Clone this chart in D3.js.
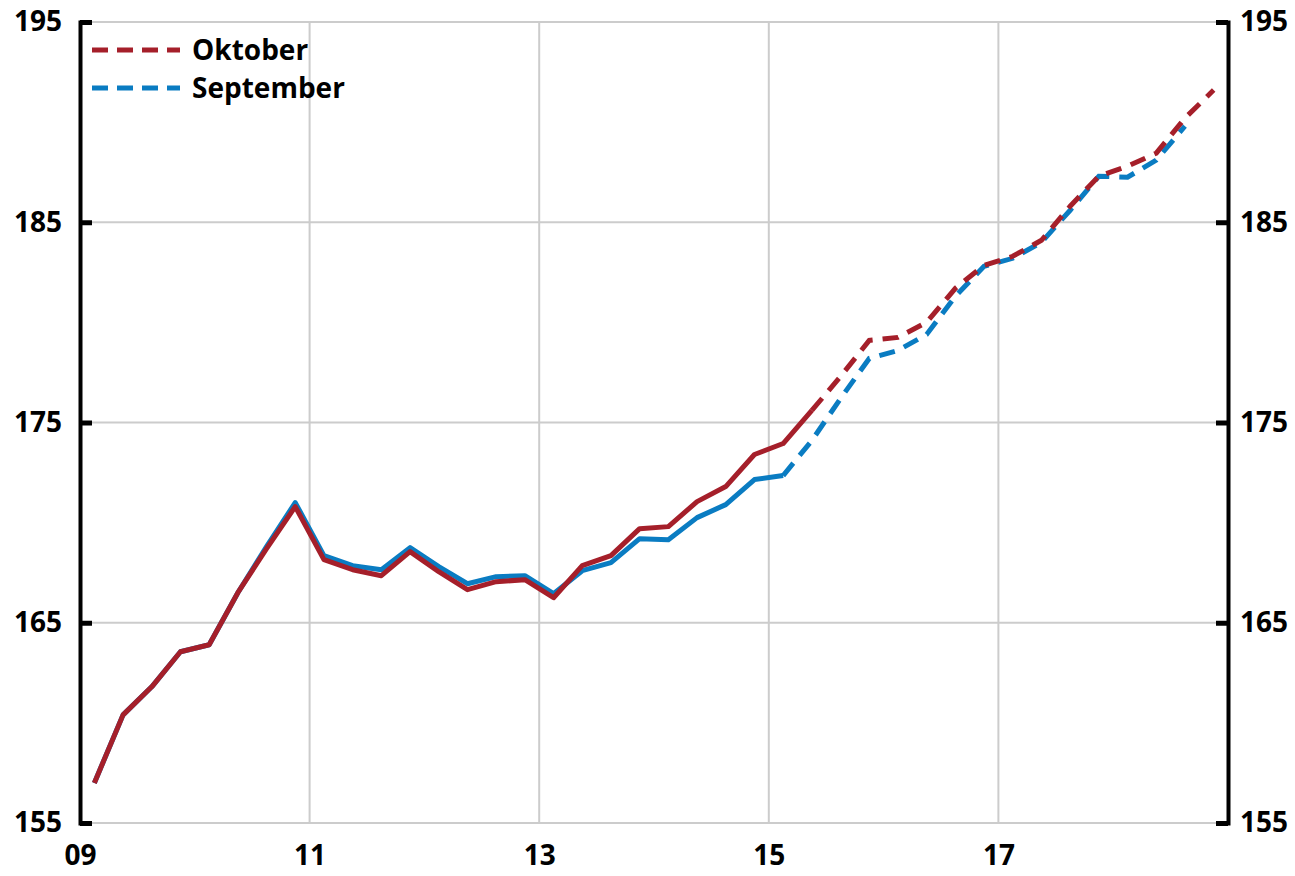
<!DOCTYPE html>
<html>
<head>
<meta charset="utf-8">
<script src="https://cdn.jsdelivr.net/npm/d3@7"></script>
<style>
  body { margin: 0; background: #fff; }
  text { font-family: "Open Sans", "DejaVu Sans", sans-serif; font-weight: 700; }
</style>
</head>
<body>
<div id="chart"></div>
<script>
// quarterly series, 2009Q1 onwards
var startYear = 2009;
var oktober = [
  157.0, 160.4, 161.8, 163.55,
  163.9, 166.5, 168.7, 170.8,
  168.15, 167.65, 167.35, 168.55,
  167.55, 166.65, 167.05, 167.15,
  166.25, 167.85, 168.35, 169.7,
  169.8, 171.05, 171.8, 173.4,
  173.95, 175.6, 177.3, 179.1,
  179.25, 180.0, 181.7, 182.85,
  183.3, 184.1, 185.8, 187.3,
  187.8, 188.45, 190.2, 191.6
];
var september = [
  157.0, 160.4, 161.8, 163.55,
  163.9, 166.5, 168.8, 171.0,
  168.35, 167.85, 167.65, 168.75,
  167.8, 166.95, 167.3, 167.35,
  166.45, 167.6, 168.0, 169.2,
  169.15, 170.25, 170.9, 172.15,
  172.35, 174.1, 176.2, 178.2,
  178.6, 179.4, 181.3, 182.8,
  183.2, 184.0, 185.6, 187.3,
  187.25, 188.1, 189.8
];
// index where the forecast (dashed) part starts
var oktoberFcst = 25;   // 2015Q2
var septemberFcst = 24; // 2015Q1
var yTicks = [155, 165, 175, 185, 195];
var xTicks = [2009, 2011, 2013, 2015, 2017];

var colRed = "#a51f2a";
var colBlue = "#0a7cc2";

var w = 1295, h = 876;
var margin = { left: 80, right: 67, top: 22, bottom: 53 };

var svg = d3.select("#chart").append("svg").attr("width", w).attr("height", h);

var x = d3.scaleLinear().domain([2009, 2019]).range([margin.left, w - margin.right]);
var y = d3.scaleLinear().domain([155, 195]).range([h - margin.bottom, margin.top]);

function toPoints(arr) {
  return arr.map((v, i) => ({ t: startYear + (i + 0.5) / 4, v: v }));
}

// grid
var grid = svg.append("g");
grid.selectAll(".hg").data(yTicks).enter().append("line")
  .attr("x1", x(2009)).attr("x2", x(2019))
  .attr("y1", d => y(d)).attr("y2", d => y(d))
  .attr("stroke", "#cccccc").attr("stroke-width", 2);
grid.selectAll(".vg").data(xTicks.slice(1)).enter().append("line")
  .attr("x1", d => x(d)).attr("x2", d => x(d))
  .attr("y1", y(195)).attr("y2", y(155))
  .attr("stroke", "#cccccc").attr("stroke-width", 2);

// lines
var line = d3.line().x(d => x(d.t)).y(d => y(d.v));

function drawSeries(arr, fcst, color) {
  var pts = toPoints(arr);
  svg.append("path").datum(pts.slice(0, fcst + 1))
    .attr("d", line).attr("fill", "none")
    .attr("stroke", color).attr("stroke-width", 5)
    .attr("stroke-linejoin", "round");
  svg.append("path").datum(pts.slice(fcst))
    .attr("d", line).attr("fill", "none")
    .attr("stroke", color).attr("stroke-width", 5)
    .attr("stroke-dasharray", "16,10");
}
drawSeries(september, septemberFcst, colBlue);
drawSeries(oktober, oktoberFcst, colRed);

// axes
var left = d3.axisLeft(y).tickValues(yTicks).tickSize(-12).tickPadding(20);
var right = d3.axisRight(y).tickValues(yTicks).tickSize(-12).tickPadding(20);

var gl = svg.append("g").attr("transform", `translate(${x(2009)},0)`).call(left);
var gr = svg.append("g").attr("transform", `translate(${x(2019)},0)`).call(right);
[gl, gr].forEach(g => {
  g.select(".domain").attr("stroke", "#000").attr("stroke-width", 4);
  g.selectAll(".tick line").attr("stroke", "#000").attr("stroke-width", 5);
  g.selectAll(".tick text").attr("font-size", 28).attr("fill", "#000")
    .style("font-family", "'Open Sans', sans-serif").style("font-weight", 700);
});
gl.selectAll(".tick text").attr("x", -18);
gr.selectAll(".tick text").attr("x", 12);

var bottom = d3.axisBottom(x).tickValues(xTicks)
  .tickFormat(d => d3.format("02d")(d % 100)).tickSize(0).tickPadding(22);
var gb = svg.append("g").attr("transform", `translate(0,${y(155)})`).call(bottom);
gb.select(".domain").remove();
gb.selectAll(".tick text").attr("font-size", 28).attr("fill", "#000")
  .style("font-family", "'Open Sans', sans-serif").style("font-weight", 700);

// legend
var legendItems = [
  { name: "Oktober", color: colRed },
  { name: "September", color: colBlue }
];
var lg = svg.append("g");
legendItems.forEach((d, i) => {
  var ly = 50 + i * 38;
  lg.append("line").attr("x1", 92).attr("x2", 180).attr("y1", ly).attr("y2", ly)
    .attr("stroke", d.color).attr("stroke-width", 5).attr("stroke-dasharray", "16,9");
  lg.append("text").attr("x", 192).attr("y", ly).attr("dy", "0.35em")
    .attr("font-size", 28).attr("fill", "#000").text(d.name);
});
</script>
</body>
</html>
